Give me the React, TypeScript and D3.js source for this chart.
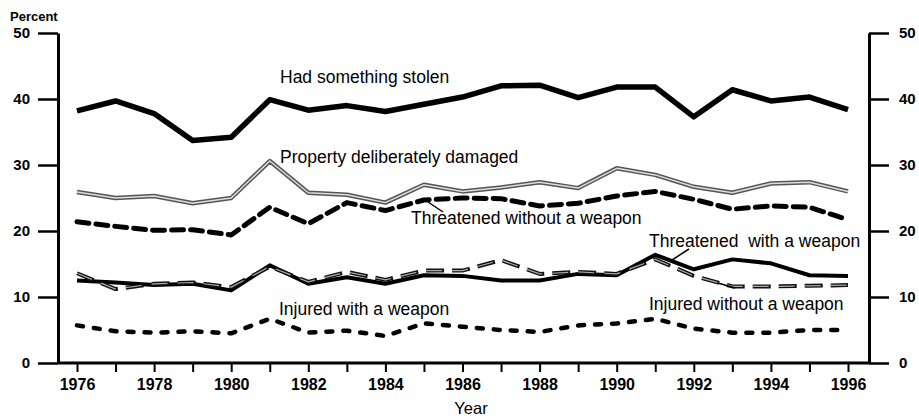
import React, {useEffect, useRef} from 'react'
import * as d3 from 'd3'

// years and series (percent of students)
const years = d3.range(1976, 1997)
const stolen = [38.2, 39.7, 37.8, 33.7, 34.2, 39.9, 38.3, 39.0, 38.1, 39.2, 40.3, 42.0, 42.1, 40.2, 41.8, 41.8, 37.3, 41.4, 39.7, 40.3, 38.4]
const damaged = [25.9, 25.0, 25.3, 24.2, 25.0, 30.6, 25.8, 25.5, 24.3, 27.0, 26.0, 26.6, 27.4, 26.5, 29.5, 28.5, 26.7, 25.8, 27.2, 27.4, 26.0]
const threatNoWeapon = [21.4, 20.7, 20.1, 20.2, 19.4, 23.6, 21.1, 24.3, 23.1, 24.7, 25.0, 24.9, 23.8, 24.2, 25.3, 26.0, 24.8, 23.3, 23.8, 23.6, 21.7]
const threatWeapon = [12.5, 12.2, 11.8, 12.0, 11.0, 14.8, 12.0, 13.0, 12.0, 13.3, 13.2, 12.5, 12.5, 13.5, 13.3, 16.4, 14.2, 15.7, 15.1, 13.3, 13.2]
const injuredNoWeapon = [13.6, 11.2, 12.0, 12.2, 11.5, 14.6, 12.3, 13.8, 12.6, 14.0, 14.0, 15.6, 13.5, 13.8, 13.5, 15.7, 13.2, 11.6, 11.6, 11.7, 11.8]
const injuredWeapon = [5.7, 4.8, 4.6, 4.8, 4.5, 6.7, 4.6, 4.9, 4.1, 6.0, 5.5, 5.0, 4.7, 5.7, 6.0, 6.7, 5.2, 4.6, 4.6, 5.0, 5.0]
const yTicks = [0, 10, 20, 30, 40, 50]
const xLabelYears = d3.range(1976, 1997, 2)

const FONT = '"Liberation Sans", Arial, sans-serif'

const App = () => {
  const svgRef = useRef<SVGSVGElement>(null)

  useEffect(() => {
    const svg = d3.select(svgRef.current)
    svg.selectAll('*').remove()

    const x = d3.scaleLinear().domain([1976, 1996]).range([77, 848])
    const y = d3.scaleLinear().domain([0, 50]).range([363, 33])
    const left = 58, right = 869

    // axes
    const yLeft = svg.append('g').attr('transform', `translate(${left},0)`)
      .call(d3.axisLeft(y).tickValues(yTicks).tickSize(20).tickPadding(8).tickSizeOuter(0))
    const yRight = svg.append('g').attr('transform', `translate(${right},0)`)
      .call(d3.axisRight(y).tickValues(yTicks).tickSize(20).tickPadding(10).tickSizeOuter(0))
    const xAxis = svg.append('g').attr('transform', `translate(0,${y(0)})`)
      .call(d3.axisBottom(x).tickValues(years).tickSize(9).tickPadding(6)
        .tickFormat(d => (xLabelYears.includes(+d) ? String(d) : '')).tickSizeOuter(0))

    for (const g of [yLeft, yRight]) {
      g.select('.domain').attr('stroke-width', 3)
      g.selectAll('.tick line').attr('stroke-width', 2.5)
      g.selectAll('text').attr('font-size', 15).attr('font-weight', 'bold').attr('font-family', FONT)
    }
    xAxis.select('.domain').attr('d', `M${left},0H${right}`).attr('stroke-width', 3)
    xAxis.selectAll('.tick line').attr('stroke-width', 2)
    xAxis.selectAll('text').attr('font-size', 16).attr('font-family', FONT)
      .attr('font-weight', 'bold').attr('dy', '0.75em')

    svg.append('text').attr('x', 10).attr('y', 21).text('Percent')
      .attr('font-size', 13).attr('font-weight', 'bold').attr('font-family', FONT)
    svg.append('text').attr('x', 471).attr('y', 414).text('Year')
      .attr('text-anchor', 'middle').attr('font-size', 16.5).attr('font-family', FONT)

    const line = d3.line<number>().x((d, i) => x(years[i])).y(d => y(d))
    const draw = (data: number[], width: number, dash: string | null, color = '#000', cap = 'butt') => {
      svg.append('path').attr('d', line(data)).attr('fill', 'none')
        .attr('stroke', color).attr('stroke-width', width)
        .attr('stroke-linejoin', 'round').attr('stroke-linecap', cap)
        .attr('stroke-dasharray', dash)
    }

    draw(injuredWeapon, 4.5, '6,11', '#000', 'round')
    draw(threatWeapon, 4, null)
    draw(injuredNoWeapon, 4, '18,8', '#111')
    draw(injuredNoWeapon, 1.2, '16,10', '#aaa')
    draw(threatNoWeapon, 5, '12,7', '#000', 'round')
    draw(damaged, 4.5, null, '#555')
    draw(damaged, 1.5, null, '#ddd')
    draw(stolen, 5.5, null)

    const labels: [string, number, number][] = [
      ['Had something stolen', 280, 83],
      ['Property deliberately damaged', 280, 163],
      ['Threatened without a weapon', 411, 224],
      ['Threatened  with a weapon', 649, 247],
      ['Injured without a weapon', 649, 310],
      ['Injured with a weapon', 279, 315],
    ]
    svg.append('g').selectAll('text').data(labels).join('text')
      .attr('x', d => d[1]).attr('y', d => d[2]).text(d => d[0])
      .attr('font-size', 17.5).attr('font-family', FONT)
      .style('white-space', 'pre')

    // leader lines
    const leaders: [number, number, number, number][] = [
      [428, 202, 443, 212],
      [689, 249, 672, 260],
      [735, 288, 718, 283],
    ]
    svg.append('g').selectAll('line').data(leaders).join('line')
      .attr('x1', d => d[0]).attr('y1', d => d[1]).attr('x2', d => d[2]).attr('y2', d => d[3])
      .attr('stroke', '#000').attr('stroke-width', 1.5)
  }, [])

  return <div style={{position: 'fixed', left: 0, top: 0, background: '#fff'}}>
    <svg ref={svgRef} width={919} height={419} style={{display: 'block'}} />
  </div>
}

export default App
